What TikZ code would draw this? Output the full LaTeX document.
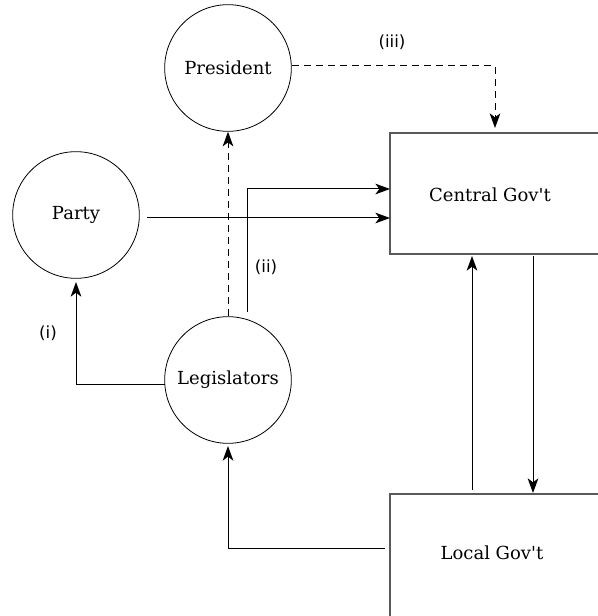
\documentclass[tikz,border=0pt]{standalone}
\usepackage{fontspec}
\setmainfont{DejaVu Serif}[Ligatures=TeXOff]
\newfontfamily\labfont{DejaVu Sans}
\usetikzlibrary{arrows.meta}
\begin{document}
\begin{tikzpicture}[x=0.75pt,y=-0.75pt,
  circ/.style={draw,circle,minimum size=95pt,inner sep=0pt,line width=0.6pt,font=\fontsize{13.5}{15}\selectfont},
  govbox/.style={draw=black!65,line width=0.9pt,rectangle},
  conn/.style={line width=0.75pt,-{Stealth[length=11pt,width=8pt,inset=3pt]}},
  dconn/.style={conn,dash pattern=on 5.5pt off 3.5pt},
  lab/.style={font=\labfont\fontsize{12.5}{14}\selectfont},
  txt/.style={font=\fontsize{13.5}{15}\selectfont}]
\useasboundingbox (0,0) rectangle (598,616);
\clip (0,0) rectangle (598,616);
\node[circ] (pres) at (228,68) {President};
\node[circ] (party) at (76,215) {Party};
\node[circ] (leg) at (228,380) {Legislators};
\draw[govbox] (390,133) rectangle (640,254);
\node[txt] (cg) at (490,195) {Central Gov't};
\draw[govbox] (390,494) rectangle (640,660);
\node[txt] (lg) at (492,553) {Local Gov't};
% connector points
\coordinate (cgA) at (390,189);
\coordinate (cgB) at (390,218);
\coordinate (partyE) at (147,218);
\coordinate (legNE) at (247,312);
\coordinate (legW) at (165,384);
\coordinate (partyS) at (76,282);
\coordinate (presE) at (292,66);
\coordinate (cgN) at (495,128);
\coordinate (lgN1) at (472,490);
\coordinate (cgS1) at (472,256);
\coordinate (cgS2) at (533,256);
\coordinate (lgN2) at (533,493);
\coordinate (lgW) at (385,548);
\coordinate (legS) at (228,446);
% connectors
\draw[conn] (partyE) -- (cgB);
\draw[conn] (legNE) |- (cgA);
\draw[conn] (legW) -| (partyS);
\draw[dconn] (leg.north) -- (pres.south);
\draw[dconn] (presE) -| (cgN);
\draw[conn] (lgN1) -- (cgS1);
\draw[conn] (cgS2) -- (lgN2);
\draw[conn] (lgW) -| (legS);
\node[lab] (l3) at (392,42) {(iii)};
\node[lab] (l2) at (266,267) {(ii)};
\node[lab] (l1) at (48,333) {(i)};
\end{tikzpicture}
\end{document}
